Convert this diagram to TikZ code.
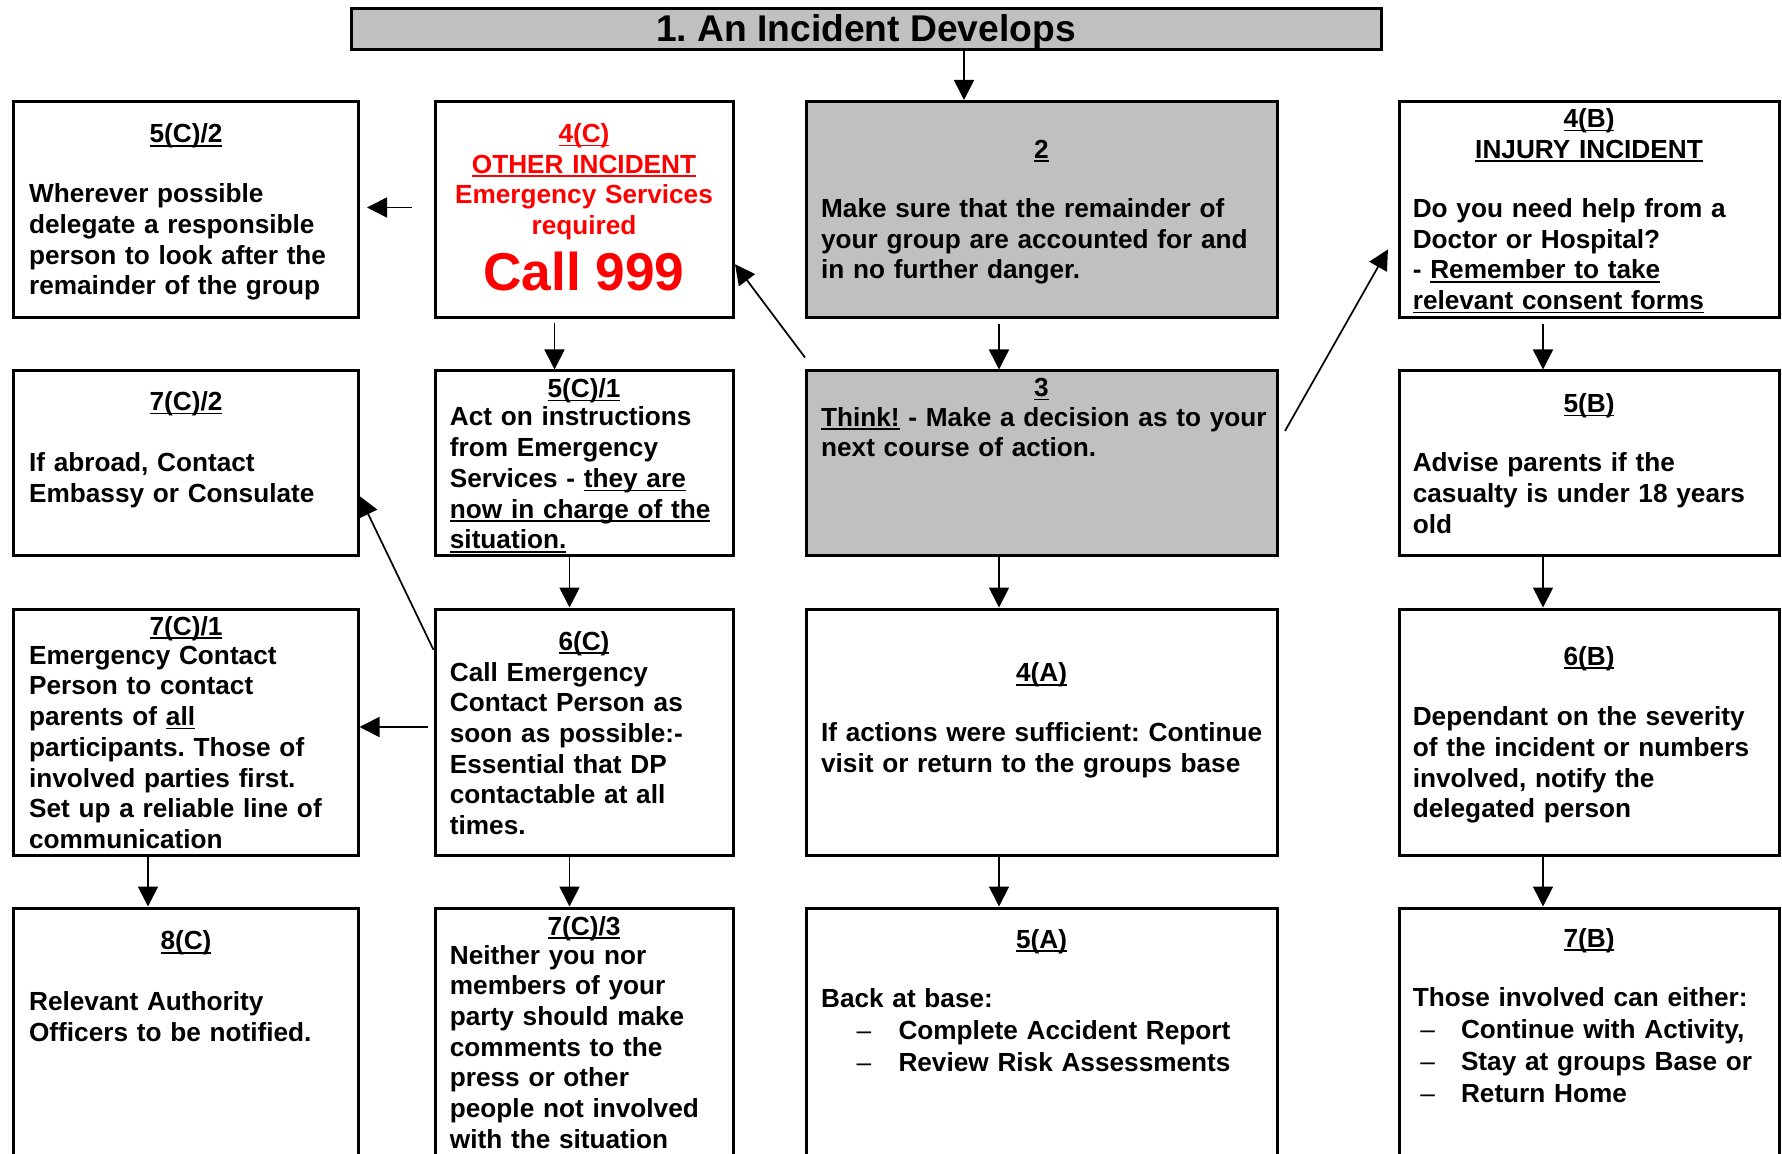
\documentclass[tikz,border=0pt]{standalone}
\usepackage{fontspec}
\setmainfont{Liberation Sans}
\usetikzlibrary{arrows.meta,fit,calc}
\definecolor{silver}{RGB}{192,192,192}
\definecolor{wred}{RGB}{255,0,0}
\frenchspacing
\newsavebox\ulbox
\newcommand\myul[1]{\leavevmode\sbox\ulbox{#1}\rlap{\rule[-1.9pt]{\wd\ulbox}{0.8pt}}\usebox\ulbox}
\newcommand\bodyfont{\fontsize{13.1pt}{15.35pt}\selectfont\bfseries\frenchspacing}
\newcommand\callfont{\fontsize{26.6pt}{30pt}\selectfont\bfseries}
\newcommand\titlefont{\fontsize{18.6pt}{22pt}\selectfont\bfseries\frenchspacing}
\newcommand\dashA{\hspace*{17.7pt}\makebox[21pt][l]{\mdseries\textendash}}
\newcommand\dashB{\hspace*{3.8pt}\makebox[20.3pt][l]{\mdseries\textendash}}
\tikzset{
  box/.style={draw, line width=1.5pt, inner sep=0pt},
  gbox/.style={box, fill=silver},
  txt/.style={inner sep=0pt, text width=240pt, align=left, anchor=base west, font=\bodyfont},
  hd/.style={inner sep=0pt, anchor=base, font=\bodyfont},
  arr/.style={line width=0.85pt, -{Triangle[length=10pt,width=10pt]}}
}
\begin{document}
\begin{tikzpicture}[x=0.5pt,y=-0.5pt]
\useasboundingbox (0,0) rectangle (1782,1154);
% boxes
\node[gbox, fit={(351,8.5)(1381,50)}] (title) {};
\node[box, fit={(13.5,101.5)(358,317.5)}] (c52) {};
\node[box, fit={(435,101.5)(733.5,317.5)}] (c4) {};
\node[gbox, fit={(806.5,101.5)(1277,317.5)}] (b2) {};
\node[box, fit={(1399,101.5)(1779,317.5)}] (b4) {};
\node[box, fit={(13.5,371)(358,556)}] (c72) {};
\node[box, fit={(435,371)(733.5,556)}] (c51) {};
\node[gbox, fit={(806.5,371)(1277,556)}] (b3) {};
\node[box, fit={(1399,371)(1779,556)}] (b5) {};
\node[box, fit={(13.5,609)(358,855)}] (c71) {};
\node[box, fit={(435,609)(733.5,855)}] (c6) {};
\node[box, fit={(806.5,609)(1277,855)}] (a4) {};
\node[box, fit={(1399,609)(1779,855)}] (b6) {};
\node[box, fit={(13.5,908)(358,1200)}] (c8) {};
\node[box, fit={(435,908)(733.5,1200)}] (c73) {};
\node[box, fit={(806.5,908)(1277,1200)}] (a5) {};
\node[box, fit={(1399,908)(1779,1200)}] (b7) {};
% title
\node[hd, font=\titlefont] (ttl) at (866,41.4) {1. An Incident Develops};
% row 1
\node[hd] (t52h) at (186,143) {\myul{5(C)/2}};
\node[txt] (t52b) at (28.7,202.7) {Wherever possible\\delegate a responsible\\person to look after the\\remainder of the group};
\node[hd, text=wred, text width=140pt, align=center] (t4ch) at (584,142.4) {\myul{4(C)}\\\myul{OTHER INCIDENT}\\Emergency Services\\required};
\node[hd, text=wred, font=\callfont] (t999) at (584,290.7) {Call 999};
\node[hd] (t2h) at (1041.5,158.3) {\myul{2}};
\node[txt] (t2b) at (820.7,217.5) {Make sure that the remainder of\\your group are accounted for and\\in no further danger.};
\node[hd, text width=180pt, align=center] (t4bh) at (1589,127.6) {\myul{4(B)}\\\myul{INJURY INCIDENT}};
\node[txt] (t4bb) at (1412.4,217.5) {Do you need help from a\\Doctor or Hospital?\\- \myul{Remember to take}\\\myul{relevant consent forms}};
% row 2
\node[hd] (t72h) at (186,410.7) {\myul{7(C)/2}};
\node[txt] (t72b) at (28.7,471.7) {If abroad, Contact\\Embassy or Consulate};
\node[hd] (t51h) at (584,397.7) {\myul{5(C)/1}};
\node[txt] (t51b) at (449.5,426) {Act on instructions\\from Emergency\\Services - \myul{they are}\\\myul{now in charge of the}\\\myul{situation.}};
\node[hd] (t3h) at (1041.5,396.6) {\myul{3}};
\node[txt] (t3b) at (820.7,426.2) {\myul{Think!} - Make a decision as to your\\next course of action.};
\node[hd] (t5bh) at (1589,412.5) {\myul{5(B)}};
\node[txt] (t5bb) at (1412.4,471.7) {Advise parents if the\\casualty is under 18 years\\old};
% row 3
\node[hd] (t71h) at (186,635.2) {\myul{7(C)/1}};
\node[txt] (t71b) at (28.7,664.2) {Emergency Contact\\Person to contact\\parents of \myul{all}\\participants. Those of\\involved parties first.\\Set up a reliable line of\\communication};
\node[hd] (t6ch) at (584,650) {\myul{6(C)}};
\node[txt] (t6cb) at (449.5,681) {Call Emergency\\Contact Person as\\soon as possible:-\\Essential that DP\\contactable at all\\times.};
\node[hd] (t4ah) at (1041.5,681.7) {\myul{4(A)}};
\node[txt] (t4ab) at (820.7,741.3) {If actions were sufficient: Continue\\visit or return to the groups base};
\node[hd] (t6bh) at (1589,665) {\myul{6(B)}};
\node[txt] (t6bb) at (1412.4,725.7) {Dependant on the severity\\of the incident or numbers\\involved, notify the\\delegated person};
% row 4
\node[hd] (t8ch) at (186,949.9) {\myul{8(C)}};
\node[txt] (t8cb) at (28.7,1010.6) {Relevant Authority\\Officers to be notified.};
\node[hd] (t73h) at (584,935) {\myul{7(C)/3}};
\node[txt] (t73b) at (449.5,964) {Neither you nor\\members of your\\party should make\\comments to the\\press or other\\people not involved\\with the situation};
\node[hd] (t5ah) at (1041.5,948) {\myul{5(A)}};
\node[txt] (t5ab) at (820.7,1007.6) {Back at base:\\[0.6pt]\dashA Complete Accident Report\\[0.6pt]\dashA Review Risk Assessments};
\node[hd] (t7bh) at (1589,947) {\myul{7(B)}};
\node[txt] (t7bb) at (1412.4,1006.5) {Those involved can either:\\[0.6pt]\dashB Continue with Activity,\\[0.6pt]\dashB Stay at groups Base or\\[0.6pt]\dashB Return Home};
% connector columns
\coordinate (xA) at (148,0);
\coordinate (xC) at (554.5,0);
\coordinate (xC2) at (569.5,0);
\coordinate (xM) at (964,0);
\coordinate (xB3) at (999,0);
\coordinate (xR) at (1543,0);
% vertical arrows
\draw[arr] (title.south -| xM) -- (b2.north -| xM);
\draw[arr] ($(b2.south -| xB3)+(0,5)$) -- (b3.north -| xB3);
\draw[arr] ($(c4.south -| xC)+(0,4)$) -- (c51.north -| xC);
\draw[arr] ($(b4.south -| xR)+(0,5)$) -- (b5.north -| xR);
\draw[arr] (c51.south -| xC2) -- (c6.north -| xC2);
\draw[arr] (b3.south -| xB3) -- (a4.north -| xB3);
\draw[arr] (b5.south -| xR) -- (b6.north -| xR);
\draw[arr] (c71.south -| xA) -- (c8.north -| xA);
\draw[arr] (c6.south -| xC2) -- (c73.north -| xC2);
\draw[arr] (a4.south -| xB3) -- (a5.north -| xB3);
\draw[arr] (b6.south -| xR) -- (b7.north -| xR);
% horizontal arrows
\coordinate (h1) at ($(c4.west)+(-21.5,-2)$);
\draw[arr, shorten >=3.75pt] (h1) -- (h1 -| c52.east);
\coordinate (h2) at ($(c6.west)+(-5.5,-5)$);
\draw[arr] (h2) -- (h2 -| c71.east);
% diagonal arrows
\coordinate (d1) at ($(b3.north west)+(0,-12)$);
\draw[arr] (d1) -- ($(c4.north east)!0.75!(c4.south east)$);
\coordinate (d2) at ($(b3.north east)+(6.5,61.5)$);
\draw[arr, shorten >=9.7pt] (d2) -- ($(b4.north west)!0.605!(b4.south west)$);
\draw[arr] ($(c6.north west)!0.17!(c6.south west)$) -- ($(c72.north east)!0.673!(c72.south east)$);
\end{tikzpicture}
\end{document}
